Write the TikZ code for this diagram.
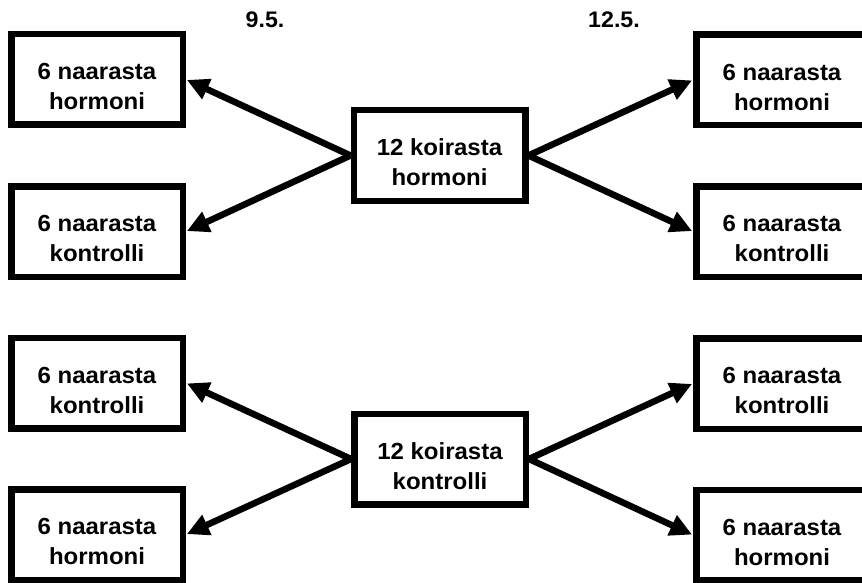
\documentclass[tikz,border=0pt]{standalone}
\usepackage{fontspec}
\setmainfont{Liberation Sans}[FakeStretch=1.03]
\usetikzlibrary{arrows.meta}
\tikzset{
  box/.style={draw=black, line width=6.5pt, minimum width=171.5pt, minimum height=90.5pt,
    inner sep=0pt},
  txt/.style={inner sep=0pt, align=center, font=\bfseries\fontsize{23.3}{30}\selectfont},
  hdr/.style={inner sep=0pt, font=\bfseries\fontsize{22.5}{24}\selectfont},
  arr/.style={line width=6.5pt, -{Triangle[length=22pt,width=21pt]}, shorten >=1pt}
}
\newcommand\bx[3]{\node[box] (#1) at (#2) {};\node[txt] (#1t) at ([yshift=-7pt]#1.center) {#3};}
\begin{document}
\begin{tikzpicture}[x=1pt,y=-1pt]
\useasboundingbox[fill=white] (0,0) rectangle (862,583);
\node[hdr] (d1) at (265,20) {9.5.};
\node[hdr] (d2) at (614,20) {12.5.};
% upper group
\bx{ul1}{97,79.5}{6 naarasta\\hormoni}
\bx{ul2}{97,231.5}{6 naarasta\\kontrolli}
\bx{uc}{439.5,155.5}{12 koirasta\\hormoni}
\bx{ur1}{782,80}{6 naarasta\\hormoni}
\bx{ur2}{782,231.5}{6 naarasta\\kontrolli}
% lower group
\bx{ll1}{97,383}{6 naarasta\\kontrolli}
\bx{ll2}{97,534.5}{6 naarasta\\hormoni}
\bx{lc}{440,459}{12 koirasta\\kontrolli}
\bx{lr1}{782,383.5}{6 naarasta\\kontrolli}
\bx{lr2}{782,535}{6 naarasta\\hormoni}
% arrows
\draw[arr] (uc.west) -- (ul1.east);
\draw[arr] (uc.west) -- (ul2.east);
\draw[arr] (uc.east) -- (ur1.west);
\draw[arr] (uc.east) -- (ur2.west);
\draw[arr] (lc.west) -- (ll1.east);
\draw[arr] (lc.west) -- (ll2.east);
\draw[arr] (lc.east) -- (lr1.west);
\draw[arr] (lc.east) -- (lr2.west);
\end{tikzpicture}
\end{document}
